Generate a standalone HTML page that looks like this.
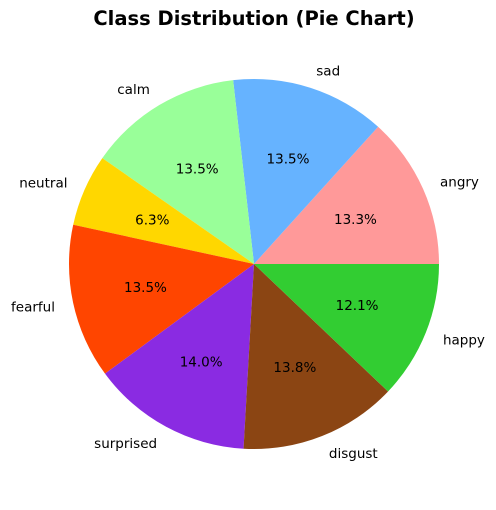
<!DOCTYPE html>
<html><head><meta charset="utf-8"><style>
body{margin:0;background:#fff;}
svg text{font-family:"DejaVu Sans","Liberation Sans",sans-serif;}
</style></head><body>
<svg id="chart" width="496" height="505" viewBox="0 0 496 505">
<text x="254" y="25" text-anchor="middle" font-size="19.5" font-weight="bold">Class Distribution (Pie Chart)</text>
<g id="slices"></g>
</svg>
<script>
const categories=["angry","sad","calm","neutral","fearful","surprised","disgust","happy"];
const values=[13.3,13.5,13.5,6.3,13.5,14.0,13.8,12.1];
const colors=["#ff9999","#66b3ff","#99ff99","#ffd700","#ff4500","#8a2be2","#8b4513","#32cd32"];
const cx=254,cy=264,r=185;
const g=document.getElementById('slices');
const NS="http://www.w3.org/2000/svg";
const total=values.reduce((a,b)=>a+b,0);
let a0=0;
values.forEach((v,i)=>{
  const a1=a0+v/total*2*Math.PI;
  const x0=cx+r*Math.cos(a0),y0=cy-r*Math.sin(a0);
  const x1=cx+r*Math.cos(a1),y1=cy-r*Math.sin(a1);
  const large=(a1-a0)>Math.PI?1:0;
  const p=document.createElementNS(NS,'path');
  p.setAttribute('d',`M${cx},${cy} L${x0},${y0} A${r},${r} 0 ${large} 0 ${x1},${y1} Z`);
  p.setAttribute('fill',colors[i]);
  
  
  g.appendChild(p);
  const m=(a0+a1)/2;
  const lx=cx+1.1*r*Math.cos(m),ly=cy-1.1*r*Math.sin(m);
  const t=document.createElementNS(NS,'text');
  t.setAttribute('x',lx);t.setAttribute('y',ly+5);
  t.setAttribute('font-size','13.5');
  t.setAttribute('text-anchor',Math.cos(m)>0?'start':'end');
  t.textContent=categories[i];
  
  
  g.appendChild(t);
  const px=cx+0.6*r*Math.cos(m),py=cy-0.6*r*Math.sin(m);
  const tp=document.createElementNS(NS,'text');
  tp.setAttribute('x',px);tp.setAttribute('y',py+5);
  tp.setAttribute('font-size','13.5');
  tp.setAttribute('text-anchor','middle');
  tp.textContent=(v/total*100).toFixed(1)+'%';
  
  
  g.appendChild(tp);
  a0=a1;
});
</script>
</body></html>
